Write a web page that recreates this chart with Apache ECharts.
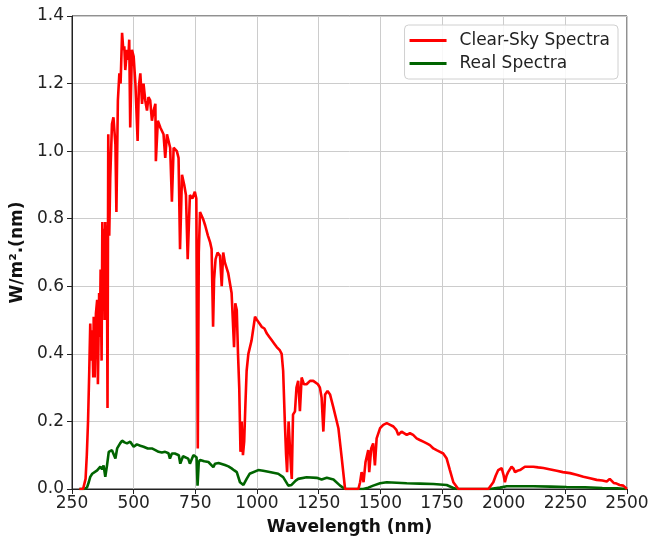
<!DOCTYPE html>
<html>
<head>
<meta charset="utf-8">
<script src="https://cdn.jsdelivr.net/npm/echarts@6/dist/echarts.min.js"></script>
<style>
html,body{margin:0;padding:0;background:#fff;}
#chart{width:651px;height:540px;}
</style>
</head>
<body>
<div id="chart"></div>
<script>
// Clear-sky spectrum (wavelength nm, W/m².nm)
var clearNm = [280,295,300,305,310,315,320,324,328,332,336,338,342,347,352,355,360,363,366,370,373,376,379,382,385,388,391,394,397,401,405,412,418,426,430,436,442,447,453,458,462,466,473,478,482,486,493,500,507,516,521,527,534,540,547,554,560,567,574,581,588,590,598,608,621,628,635,648,655,662,675,682,688,696,705,712,719,728,738,748,754,760,764,769,781,790,801,810,816,822,826,832,840,850,857,863,870,883,897,907,912,918,923,928,933,938,943,948,953,958,965,978,984,992,1000,1010,1019,1030,1040,1050,1060,1070,1080,1093,1100,1106,1113,1118,1122,1128,1134,1138,1141,1146,1154,1160,1167,1174,1181,1190,1201,1215,1228,1247,1255,1262,1269,1276,1286,1296,1310,1320,1330,1343,1357,1380,1411,1418,1424,1432,1440,1451,1455,1463,1471,1478,1485,1492,1499,1512,1526,1540,1553,1565,1573,1586,1593,1607,1620,1633,1647,1660,1674,1688,1701,1715,1728,1742,1755,1769,1782,1796,1816,1850,1900,1938,1958,1968,1978,1992,2000,2005,2012,2018,2032,2040,2046,2056,2066,2086,2100,2120,2140,2161,2190,2215,2240,2269,2295,2323,2350,2377,2400,2418,2430,2438,2446,2458,2470,2485,2500];
var clearVal = [0,0,0.005,0.03,0.1,0.2,0.35,0.49,0.38,0.47,0.33,0.51,0.33,0.52,0.56,0.31,0.58,0.45,0.65,0.38,0.79,0.6,0.77,0.5,0.79,0.55,0.78,0.24,1.05,0.75,0.92,1.08,1.1,1.02,0.82,1.15,1.23,1.2,1.35,1.3,1.31,1.24,1.3,1.27,1.33,1.07,1.3,1.28,1.2,1.03,1.19,1.23,1.14,1.2,1.15,1.12,1.16,1.15,1.09,1.12,1.14,0.97,1.09,1.07,1.05,0.98,1.05,1.01,0.85,1.01,1.0,0.98,0.71,0.93,0.9,0.87,0.68,0.87,0.86,0.88,0.86,0.12,0.7,0.82,0.8,0.78,0.75,0.73,0.71,0.48,0.62,0.68,0.7,0.69,0.6,0.7,0.67,0.64,0.58,0.42,0.55,0.53,0.4,0.3,0.11,0.2,0.1,0.14,0.25,0.35,0.4,0.44,0.47,0.51,0.5,0.49,0.48,0.475,0.46,0.45,0.44,0.43,0.42,0.41,0.4,0.35,0.195,0.1,0.05,0.2,0.2,0.06,0.03,0.22,0.23,0.3,0.32,0.23,0.33,0.31,0.31,0.32,0.32,0.31,0.3,0.27,0.17,0.28,0.29,0.28,0.24,0.21,0.18,0.095,0,0,0,0.02,0.05,0.02,0.08,0.115,0.05,0.12,0.135,0.07,0.15,0.145,0.18,0.19,0.195,0.19,0.185,0.175,0.16,0.17,0.175,0.16,0.165,0.16,0.15,0.145,0.14,0.135,0.13,0.12,0.115,0.11,0.105,0.09,0.056,0.02,0,0,0,0,0.02,0.04,0.056,0.062,0.04,0.02,0.04,0.05,0.066,0.06,0.05,0.054,0.056,0.066,0.066,0.066,0.064,0.062,0.058,0.054,0.05,0.047,0.042,0.036,0.032,0.027,0.025,0.022,0.03,0.03,0.018,0.016,0.012,0.01,0];

// Real spectrum
var realNm = [280,300,311,318,324,332,340,352,365,372,378,385,392,399,412,420,426,433,439,445,453,463,473,486,500,513,527,540,557,574,588,601,614,628,641,647,655,667,683,689,700,721,728,742,755,759,764,769,786,803,823,830,844,857,870,884,897,908,918,931,938,945,958,970,978,1005,1025,1046,1066,1086,1093,1106,1113,1127,1140,1147,1157,1167,1201,1242,1262,1283,1310,1337,1357,1400,1431,1451,1471,1499,1526,1607,1660,1715,1769,1796,1810,1900,1944,1985,2012,2060,2120,2190,2255,2330,2400,2460,2500];
var realVal = [0,0,0.005,0.02,0.036,0.045,0.05,0.055,0.066,0.058,0.07,0.036,0.07,0.11,0.115,0.11,0.09,0.12,0.125,0.135,0.143,0.138,0.135,0.14,0.125,0.132,0.128,0.125,0.12,0.12,0.115,0.11,0.108,0.11,0.106,0.09,0.105,0.105,0.1,0.075,0.097,0.09,0.075,0.1,0.094,0.01,0.08,0.086,0.082,0.08,0.065,0.075,0.077,0.074,0.071,0.067,0.061,0.055,0.05,0.02,0.025,0.012,0.03,0.045,0.05,0.056,0.054,0.051,0.048,0.045,0.046,0.035,0.03,0.01,0.012,0.01,0.025,0.03,0.035,0.033,0.028,0.033,0.028,0.01,0,0,0,0.004,0.01,0.017,0.02,0.017,0.016,0.015,0.012,0.003,0,0,0,0.004,0.008,0.008,0.008,0.007,0.006,0.005,0.003,0.002,0];

var xTicks = [250,500,750,1000,1250,1500,1750,2000,2250,2500];
var yTicks = [0.0,0.2,0.4,0.6,0.8,1.0,1.2,1.4];

function zip(a,b){ var r=[]; for(var i=0;i<a.length;i++) r.push([a[i],b[i]]); return r; }

var chart = echarts.init(document.getElementById('chart'), null, {renderer:'canvas'});
var fontFam = 'DejaVu Sans';
chart.setOption({
  animation:false,
  backgroundColor:'#fff',
  grid:{left:72,right:24,top:16,bottom:51,containLabel:false,outerBoundsMode:'none',show:true,borderColor:'#222',borderWidth:1,backgroundColor:'transparent'},
  legend:{
    right:33, top:25, orient:'vertical',
    icon:'rect', itemWidth:37, itemHeight:3, itemGap:6,
    padding:[7,8,7,5],
    backgroundColor:'rgba(255,255,255,0.85)', borderColor:'#d0d0d0', borderWidth:1, borderRadius:4,
    textStyle:{fontFamily:fontFam,fontSize:17,color:'#222',padding:[0,0,0,8]},
    data:['Clear-Sky Spectra','Real Spectra']
  },
  xAxis:{
    type:'value', min:xTicks[0], max:xTicks[xTicks.length-1], interval:250,
    name:'Wavelength (nm)', nameLocation:'middle', nameGap:30,
    nameTextStyle:{fontFamily:fontFam,fontSize:17,fontWeight:'bold',color:'#111'},
    axisLine:{show:true,onZero:false,lineStyle:{color:'#222',width:1}},
    axisTick:{show:true,length:5,inside:false,lineStyle:{color:'#222'}},
    axisLabel:{fontFamily:fontFam,fontSize:17,color:'#222',margin:6,formatter:function(v){return String(v);}},
    splitLine:{show:true,lineStyle:{color:'#cccccc',width:1}}
  },
  yAxis:{
    type:'value', min:yTicks[0], max:yTicks[yTicks.length-1], interval:0.2,
    name:'W/m².(nm)', nameLocation:'middle', nameGap:46, nameRotate:90,
    nameTextStyle:{fontFamily:fontFam,fontSize:17,fontWeight:'bold',color:'#111'},
    axisLine:{show:true,lineStyle:{color:'#222',width:1}},
    axisTick:{show:true,length:5,inside:false,lineStyle:{color:'#222'}},
    axisLabel:{fontFamily:fontFam,fontSize:17,color:'#222',margin:8,formatter:function(v){return v.toFixed(1);}},
    splitLine:{show:true,lineStyle:{color:'#cccccc',width:1}}
  },
  series:[
    {name:'Clear-Sky Spectra',type:'line',showSymbol:false,symbol:'none',data:zip(clearNm,clearVal),
     lineStyle:{color:'#ff0000',width:2.6},itemStyle:{color:'#ff0000'},z:3},
    {name:'Real Spectra',type:'line',showSymbol:false,symbol:'none',data:zip(realNm,realVal),
     lineStyle:{color:'#006400',width:2.6},itemStyle:{color:'#006400'},z:2}
  ]
});
</script>
</body>
</html>
